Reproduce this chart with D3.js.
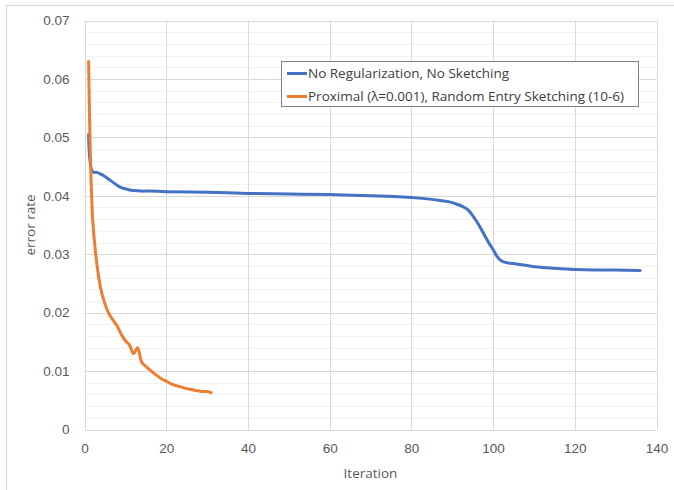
<!DOCTYPE html>
<html>
<head>
<meta charset="utf-8">
<script src="https://cdn.jsdelivr.net/npm/d3@7"></script>
<style>
  html, body { margin: 0; padding: 0; background: #ffffff; }
  svg { display: block; font-family: "Open Sans", "Noto Sans", sans-serif; }
</style>
</head>
<body>
<svg id="chart" width="674" height="490"></svg>
<script>
// ---- data ----
const seriesNames = [
  "No Regularization, No Sketching",
  "Proximal (\u03bb=0.001), Random Entry Sketching (10-6)"
];
const blueIter = [1,2,3,4,5,6,7,8,9,10,11,12,14,16,20,30,40,50,60,70,78,82,86,89,91,93,94,95,96,97,98,99,100,101,102,103,105,108,111,115,120,125,130,136];
const blueErr  = [0.0505,0.0441,0.0440,0.0437,0.0433,0.0428,0.0423,0.0418,0.0414,0.0412,0.0410,0.0409,0.0408,0.0408,0.0407,0.0406,0.0404,0.0403,0.0402,0.0400,0.0398,0.0396,0.0393,0.0390,0.0386,0.0380,0.0375,0.0366,0.0356,0.0344,0.0331,0.0319,0.0308,0.0296,0.0289,0.0286,0.0284,0.0281,0.0278,0.0276,0.0274,0.0273,0.0273,0.0272];
const orangeIter = [1,2,3,4,5,6,7,8,9,10,11,12,13,14,15,16,17,18,19,20,21,22,23,24,25,26,27,28,29,30,31];
const orangeErr  = [0.0630,0.0360,0.0285,0.0240,0.0215,0.0198,0.0187,0.0177,0.0163,0.0152,0.0145,0.0130,0.0140,0.0115,0.0108,0.0102,0.0096,0.0091,0.0086,0.0083,0.0079,0.0076,0.0074,0.0072,0.0070,0.0069,0.0067,0.0066,0.0065,0.0065,0.0063];
const xTicks = [0,20,40,60,80,100,120,140];
const yTicks = [0,0.01,0.02,0.03,0.04,0.05,0.06,0.07];
const yMinorTicks = d3.range(0, 71, 2).map(v => v / 1000);
const xTitle = "Iteration";
const yTitle = "error rate";
const colors = ["#4472C4", "#ED7D31"];

// ---- layout ----
const svg = d3.select("#chart");
const L = 84.5, R = 656.5, T = 20.5, B = 429.5;
const x = d3.scaleLinear().domain([0, 140]).range([L, R]);
const y = d3.scaleLinear().domain([0, 0.07]).range([B, T]);

// outer chart frame (cropped at right/bottom)
svg.append("rect").attr("x", 6.5).attr("y", 5.5).attr("width", 720).attr("height", 520)
  .attr("fill", "none").attr("stroke", "#d9d9d9").attr("stroke-width", 1.2);

// minor horizontal gridlines
svg.append("g").selectAll("line").data(yMinorTicks).join("line")
  .attr("x1", L).attr("x2", R)
  .attr("y1", d => Math.round(y(d)) + 0.5).attr("y2", d => Math.round(y(d)) + 0.5)
  .attr("stroke", "#f2f2f2").attr("stroke-width", 1);

// major horizontal gridlines
svg.append("g").selectAll("line").data(yTicks).join("line")
  .attr("x1", L).attr("x2", R)
  .attr("y1", d => Math.round(y(d)) + 0.5).attr("y2", d => Math.round(y(d)) + 0.5)
  .attr("stroke", "#d9d9d9").attr("stroke-width", 1);

// vertical gridlines
svg.append("g").selectAll("line").data(xTicks).join("line")
  .attr("y1", T).attr("y2", B)
  .attr("x1", d => Math.round(x(d)) + 0.5).attr("x2", d => Math.round(x(d)) + 0.5)
  .attr("stroke", "#d9d9d9").attr("stroke-width", 1);

// axes (labels only, lines drawn by gridlines)
const xAxis = svg.append("g").attr("transform", `translate(0,${B})`)
  .call(d3.axisBottom(x).tickValues(xTicks).tickSize(0).tickPadding(14).tickFormat(d3.format("d")));
xAxis.select(".domain").remove();
xAxis.selectAll("text").attr("fill", "#595959").style("font-size", "13.5px");

const yAxis = svg.append("g").attr("transform", `translate(${L},0)`)
  .call(d3.axisLeft(y).tickValues(yTicks).tickSize(0).tickPadding(15)
    .tickFormat(d => d === 0 ? "0" : d3.format(".2f")(d)));
yAxis.select(".domain").remove();
yAxis.selectAll("text").attr("fill", "#595959").style("font-size", "13.5px");

// axis titles
svg.append("text").attr("x", (L + R) / 2).attr("y", 478).attr("text-anchor", "middle")
  .attr("fill", "#595959").style("font-size", "13.5px").text(xTitle);
svg.append("text").attr("transform", `translate(35,${(T + B) / 2}) rotate(-90)`)
  .attr("text-anchor", "middle").attr("fill", "#595959").style("font-size", "13.5px").text(yTitle);

// lines
const line = d3.line().x(d => x(d[0])).y(d => y(d[1])).curve(d3.curveCatmullRom.alpha(0.5));
const blueData = blueIter.map((v, i) => [v, blueErr[i]]);
const orangeData = orangeIter.map((v, i) => [v, orangeErr[i]]);
[blueData, orangeData].forEach((data, i) => {
  svg.append("path").datum(data).attr("d", line)
    .attr("fill", "none").attr("stroke", colors[i]).attr("stroke-width", 3)
    .attr("stroke-linecap", "round").attr("stroke-linejoin", "round");
});

// legend
const lg = svg.append("g");
lg.append("rect").attr("x", 281.5).attr("y", 61.5).attr("width", 357).attr("height", 45)
  .attr("fill", "#ffffff").attr("stroke", "#7f7f7f").attr("stroke-width", 1);
seriesNames.forEach((name, i) => {
  const cy = 73.5 + i * 23;
  lg.append("line").attr("x1", 287).attr("x2", 307).attr("y1", cy).attr("y2", cy)
    .attr("stroke", colors[i]).attr("stroke-width", 3);
  lg.append("text").attr("x", 308).attr("y", cy).attr("dy", "0.35em")
    .attr("fill", "#404040").style("font-size", "13.5px").text(name);
});
</script>
</body>
</html>
